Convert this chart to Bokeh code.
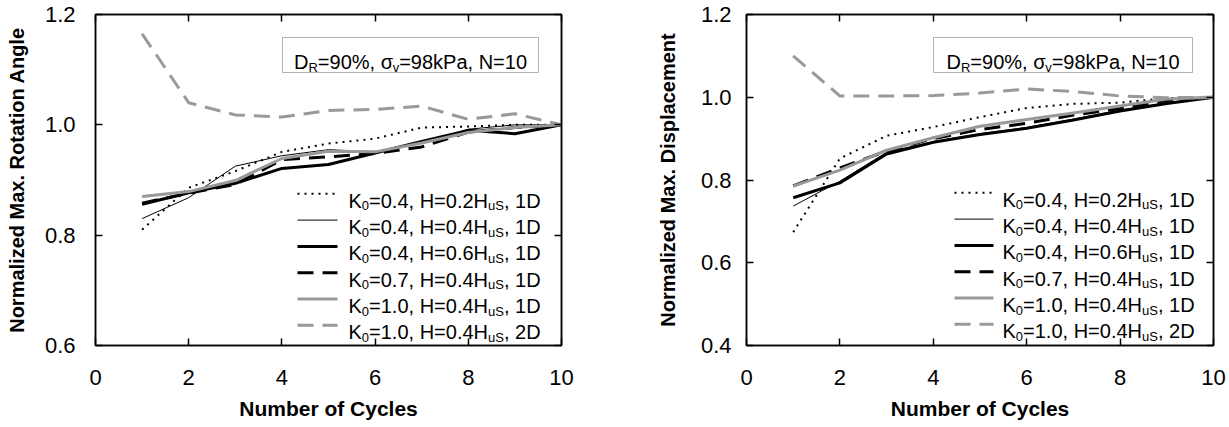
from bokeh.plotting import figure
from bokeh.models import Range1d, FixedTicker, PrintfTickFormatter, LinearAxis, BoxAnnotation
from bokeh.layouts import row
from bokeh.core.properties import value
from bokeh.embed import file_html
from bokeh.resources import INLINE

# ---------------- data ----------------
cycles = [1, 2, 3, 4, 5, 6, 7, 8, 9, 10]

legend_k0 = ["0.4", "0.4", "0.4", "0.7", "1.0", "1.0"]
legend_h = ["0.2", "0.4", "0.6", "0.4", "0.4", "0.4"]
legend_d = ["1D", "1D", "1D", "1D", "1D", "2D"]

# Normalized max. rotation angle
rot_k04_h02_1d = [0.810, 0.886, 0.916, 0.951, 0.966, 0.975, 0.995, 0.997, 1.000, 1.000]
rot_k04_h04_1d = [0.830, 0.868, 0.925, 0.944, 0.955, 0.951, 0.967, 0.992, 1.000, 1.000]
rot_k04_h06_1d = [0.856, 0.877, 0.894, 0.921, 0.928, 0.949, 0.970, 0.990, 0.984, 1.000]
rot_k07_h04_1d = [0.858, 0.876, 0.892, 0.937, 0.942, 0.948, 0.960, 0.987, 0.995, 1.000]
rot_k10_h04_1d = [0.870, 0.879, 0.899, 0.939, 0.952, 0.951, 0.967, 0.986, 0.995, 1.000]
rot_k10_h04_2d = [1.165, 1.040, 1.018, 1.014, 1.026, 1.028, 1.034, 1.010, 1.020, 1.000]

# Normalized max. displacement
dsp_k04_h02_1d = [0.674, 0.852, 0.907, 0.928, 0.952, 0.974, 0.984, 0.987, 0.998, 1.000]
dsp_k04_h04_1d = [0.737, 0.797, 0.867, 0.893, 0.912, 0.927, 0.947, 0.969, 0.987, 1.000]
dsp_k04_h06_1d = [0.757, 0.793, 0.863, 0.891, 0.910, 0.925, 0.945, 0.967, 0.985, 1.000]
dsp_k07_h04_1d = [0.786, 0.829, 0.870, 0.900, 0.922, 0.937, 0.957, 0.973, 0.992, 1.000]
dsp_k10_h04_1d = [0.785, 0.824, 0.872, 0.902, 0.930, 0.946, 0.962, 0.979, 0.996, 1.000]
dsp_k10_h04_2d = [1.100, 1.003, 1.003, 1.004, 1.010, 1.020, 1.014, 1.003, 0.999, 1.000]

rot_series = [rot_k04_h02_1d, rot_k04_h04_1d, rot_k04_h06_1d, rot_k07_h04_1d, rot_k10_h04_1d, rot_k10_h04_2d]
dsp_series = [dsp_k04_h02_1d, dsp_k04_h04_1d, dsp_k04_h06_1d, dsp_k07_h04_1d, dsp_k10_h04_1d, dsp_k10_h04_2d]

x_ticks = [0, 2, 4, 6, 8, 10]
rot_y_ticks = [0.6, 0.8, 1.0, 1.2]
dsp_y_ticks = [0.4, 0.6, 0.8, 1.0, 1.2]

# ---------------- style / layout ----------------
FONT = "Liberation Sans"
GRAY = "#999999"
STYLES = [
    dict(color="black", width=2, dash="2 5"),
    dict(color="black", width=1, dash="solid"),
    dict(color="black", width=3, dash="solid"),
    dict(color="black", width=3, dash="16 9"),
    dict(color=GRAY, width=3, dash="solid"),
    dict(color=GRAY, width=3, dash="16 9"),
]

PAGE_X0 = 0
PAGE_Y0 = 0
FIG_H = 426
FRAME_TOP = 14      # canvas px
FRAME_H = 331
TICK_FS = "22px"
XTITLE_FS = "21px"
YTITLE_FS = "20px"

ARIAL_W = {' ': 278, ',': 278, '.': 278, '=': 584, '%': 889, 'K': 667, 'H': 722, 'D': 722,
           'N': 722, 'R': 722, 'S': 667, 'P': 667, 'u': 556, 'k': 500, 'a': 556, 'v': 500,
           '\u03c3': 600}


def tw(s, size):
    return sum(ARIAL_W.get(c, 556) for c in s) * size / 1000.0


def rich_text(p, x, y, pieces, size=20, sub_size=13, sub_drop=5, base_off=7, center=False):
    total = sum(tw(t, sub_size if s else size) for t, s in pieces)
    off = -total / 2.0 if center else 0.0
    for t, s in pieces:
        fs = sub_size if s else size
        p.text(x=[x], y=[y], text=[t], x_offset=off, y_offset=base_off + (sub_drop if s else 0),
               text_font_size=f"{fs}px", text_baseline="alphabetic", text_align="left",
               text_font=value(FONT), text_color="black")
        off += tw(t, fs)


def make_plot(series, y_lo, y_hi, y_ticks, ylabel, page_x0, width, bl, br, fw,
              lab_standoff, ax_standoff, geo):
    p = figure(width=width, height=FIG_H, output_backend="svg", toolbar_location=None,
               x_range=Range1d(0, 10), y_range=Range1d(y_lo, y_hi),
               min_border_left=bl, min_border_right=br, min_border_top=FRAME_TOP,
               min_border_bottom=FIG_H - FRAME_TOP - FRAME_H,
               background_fill_color="white", border_fill_color="white")
    p.outline_line_color = "black"
    p.outline_line_width = 1.5
    p.grid.visible = False

    frame_left_page = page_x0 + bl
    frame_top_page = PAGE_Y0 + FRAME_TOP

    def fx(px):
        return (px - frame_left_page) * 10.0 / fw

    def fy(py):
        return y_hi - (py - frame_top_page) * (y_hi - y_lo) / float(FRAME_H)

    for ys, st in zip(series, STYLES):
        p.line(cycles, ys, line_color=st["color"], line_width=st["width"], line_dash=st["dash"],
               line_join="round")

    # mirrored axes: ticks only
    p.add_layout(LinearAxis(), "right")
    p.add_layout(LinearAxis(), "above")

    for ax in p.xaxis:
        ax.ticker = FixedTicker(ticks=x_ticks)
    for ax in p.yaxis:
        ax.ticker = FixedTicker(ticks=y_ticks)
        ax.formatter = PrintfTickFormatter(format="%.1f")
    for ax in p.axis:
        ax.major_tick_in = 7
        ax.major_tick_out = 0
        ax.minor_tick_in = 0
        ax.minor_tick_out = 0
        ax.axis_line_width = 1.5
        ax.major_tick_line_width = 1.5
        ax.axis_line_color = "black"
        ax.major_tick_line_color = "black"
        ax.major_label_text_font = FONT
        ax.major_label_text_font_size = TICK_FS
        ax.major_label_text_color = "black"
        ax.axis_label_text_font = FONT
        ax.axis_label_text_font_style = "bold"
        ax.axis_label_text_color = "black"
    for ax in [p.right[0], p.above[0]]:
        ax.major_label_text_font_size = "1px"
        ax.major_label_text_color = None
        ax.major_label_standoff = 0

    p.below[0].axis_label = "Number of Cycles"
    p.below[0].axis_label_text_font_size = XTITLE_FS
    p.below[0].major_label_standoff = 24
    p.below[0].axis_label_standoff = 9
    p.left[0].axis_label = ylabel
    p.left[0].axis_label_text_font_size = YTITLE_FS
    p.left[0].major_label_standoff = lab_standoff
    p.left[0].axis_label_standoff = ax_standoff

    # annotation box
    bx0, bx1, by0, by1 = geo["box"]
    p.add_layout(BoxAnnotation(left=fx(bx0), right=fx(bx1), top=fy(by0), bottom=fy(by1),
                               fill_color=None, line_color="black", line_width=1))
    rich_text(p, fx((bx0 + bx1) / 2.0), fy((by0 + by1) / 2.0),
              [("D", 0), ("R", 1), ("=90%, ", 0), ("\u03c3", 0), ("v", 1), ("=98kPa, N=10", 0)],
              center=True)

    # legend
    sx0, sx1 = geo["sample"]
    tx = geo["text_x"]
    r0, dr = geo["rows"]
    for i, st in enumerate(STYLES):
        ry = fy(r0 + i * dr)
        p.line([fx(sx0), fx(sx1)], [ry, ry], line_color=st["color"], line_width=st["width"],
               line_dash=st["dash"])
        pieces = [("K", 0), ("0", 1), (f"={legend_k0[i]}, H={legend_h[i]}H", 0), ("uS", 1),
                  (f", {legend_d[i]}", 0)]
        rich_text(p, fx(tx), ry, pieces)
    return p


W1 = 591
p1 = make_plot(rot_series, 0.6, 1.2, rot_y_ticks, "Normalized Max. Rotation Angle",
               page_x0=PAGE_X0, width=W1, bl=95, br=30, fw=466, lab_standoff=20, ax_standoff=14,
               geo=dict(box=(282, 538, 37, 72), sample=(297, 337), text_x=348, rows=(193.3, 26.3)))
p2 = make_plot(dsp_series, 0.4, 1.2, dsp_y_ticks, "Normalized Max. Displacement",
               page_x0=PAGE_X0 + W1, width=1229 - W1, bl=155, br=16, fw=467, lab_standoff=15,
               ax_standoff=19,
               geo=dict(box=(933, 1192, 37, 72), sample=(954, 993), text_x=1002, rows=(192.3, 26.3)))

layout = row(p1, p2)
open("out.html", "w").write(file_html(layout, INLINE))
